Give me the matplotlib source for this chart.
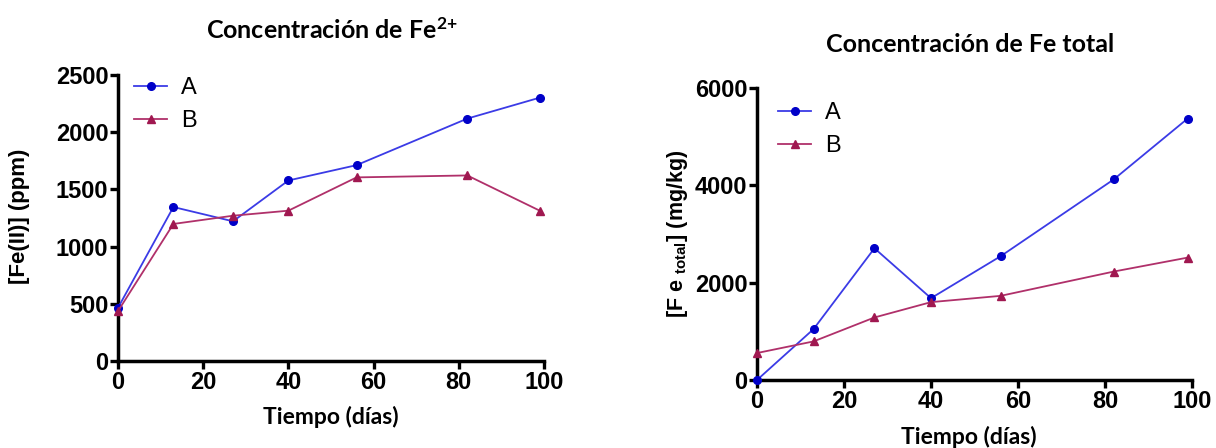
import matplotlib
matplotlib.use("Agg")
import matplotlib.pyplot as plt
from matplotlib import font_manager as fm

# ---- data ----
dias = [0, 13, 27, 40, 56, 82, 99]
fe2_A = [465, 1346, 1221, 1578, 1712, 2119, 2302]
fe2_B = [436, 1198, 1270, 1314, 1605, 1622, 1314]
fet_A = [0, 1046, 2707, 1681, 2543, 4121, 5372]
fet_B = [554, 793, 1285, 1600, 1729, 2228, 2515]
series_labels = ["A", "B"]
left_yticks = [0, 500, 1000, 1500, 2000, 2500]
right_yticks = [0, 2000, 4000, 6000]
xticks = [0, 20, 40, 60, 80, 100]

names = {f.name for f in fm.fontManager.ttflist}
tick_font = "Liberation Sans"
title_font = "Lato" if "Lato" in names else "DejaVu Sans"

plt.rcParams['mathtext.default'] = 'regular'

colA_line, colA_mark = "#3b3be6", "#0000c8"
colB_line, colB_mark = "#b0306a", "#a01850"

fig = plt.figure(figsize=(12.16, 4.48), dpi=100)
ax1 = fig.add_axes([118/1216, 1-361/448, (544-118)/1216, (361-75)/448])
ax2 = fig.add_axes([757/1216, 1-380/448, (1192-757)/1216, (380-88)/448])

def style(ax, ymax, yticks):
    ax.set_xlim(0, 100)
    ax.set_ylim(0, ymax)
    ax.set_xticks(xticks)
    ax.set_yticks(yticks)
    for s in ["top", "right"]:
        ax.spines[s].set_visible(False)
    for s in ["left", "bottom"]:
        ax.spines[s].set_linewidth(2.5)
    ax.tick_params(direction="out", length=6, width=2.4, pad=1)
    for lab in ax.get_xticklabels() + ax.get_yticklabels():
        lab.set_fontfamily(tick_font)
        lab.set_fontweight("bold")
        lab.set_fontsize(17)

legend_anchor = {0: (134/1216, 1-77/448), 1: (778/1216, 1-102/448)}

for i, (ax, yA, yB, ymax, yt) in enumerate([(ax1, fe2_A, fe2_B, 2500, left_yticks),
                                            (ax2, fet_A, fet_B, 6000, right_yticks)]):
    ax.plot(dias, yA, color=colA_line, lw=1.3, marker="o", ms=5.5,
            mfc=colA_mark, mec=colA_mark, label=series_labels[0], clip_on=False, zorder=3)
    ax.plot(dias, yB, color=colB_line, lw=1.3, marker="^", ms=5.5,
            mfc=colB_mark, mec=colB_mark, label=series_labels[1], clip_on=False, zorder=3)
    style(ax, ymax, yt)
    ax.legend(loc="upper left", frameon=False, prop={"family": "Liberation Sans", "size": 17},
              handlelength=1.4, handletextpad=0.6, labelspacing=0.47,
              borderpad=0, borderaxespad=0,
              bbox_to_anchor=legend_anchor[i], bbox_transform=fig.transFigure)

fig.text(332/1216, 1-30/448, "Concentración de Fe$^{2{+}}$", ha="center", va="center",
         fontfamily=title_font, fontweight="bold", fontsize=18)
fig.text(970/1216, 1-44/448, "Concentración de Fe total", ha="center", va="center",
         fontfamily=title_font, fontweight="bold", fontsize=18)
fig.text(331/1216, 1-417/448, "Tiempo (días)", ha="center", va="center",
         fontfamily=title_font, fontweight="bold", fontsize=16.5)
fig.text(969/1216, 1-437/448, "Tiempo (días)", ha="center", va="center",
         fontfamily=title_font, fontweight="bold", fontsize=16.5)
fig.text(20/1216, 1-216/448, "[Fe(II)] (ppm)", ha="center", va="center", rotation=90,
         fontfamily="Liberation Sans", fontweight="bold", fontsize=16)
fig.text(678/1216, 1-234/448, "[F e $_{total}$] (mg/kg)", ha="center", va="center", rotation=90,
         fontfamily="Liberation Sans", fontweight="bold", fontsize=15.5)

fig.savefig("out.png", dpi=100)
